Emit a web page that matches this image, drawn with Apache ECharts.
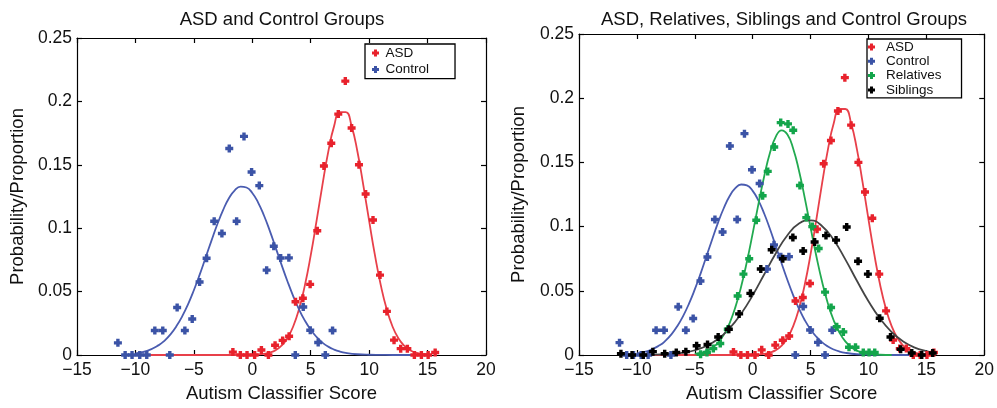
<!DOCTYPE html>
<html>
<head>
<meta charset="utf-8">
<script src="https://cdn.jsdelivr.net/npm/echarts@6/dist/echarts.min.js"></script>
<style>
html,body{margin:0;padding:0;background:#fff;}
#chart{width:997px;height:408px;}
</style>
</head>
<body>
<div id="chart"></div>
<script>
// ---- Data ----
const xTicks = [-15, -10, -5, 0, 5, 10, 15, 20];
const yTicks = [0, 0.05, 0.1, 0.15, 0.2, 0.25];

const controlX = [-11.5,-10.88,-10.29,-9.63,-9.03,-8.34,-7.66,-7.06,-6.43,-5.77,-5.14,-4.51,-3.91,-3.26,-2.6,-1.97,-1.34,-0.71,-0.06,0.6,1.23,1.84,2.43,3.13,3.68,4.36,4.96,5.64,6.25,6.87];
const controlY = [0.0096,0,0,0,0,0.0193,0.0193,0,0.0375,0.0193,0.0284,0.0576,0.0763,0.1055,0.0958,0.1628,0.1055,0.1724,0.1443,0.1336,0.0669,0.0858,0.0765,0.0766,0,0.0378,0.0195,0.0098,0,0.0193];

const asdX = [-1.66,-1.02,-0.45,0.2,0.78,1.38,1.95,2.6,3.15,3.7,4.33,4.95,5.56,6.13,6.76,7.36,7.96,8.5,9.13,9.7,10.33,10.93,11.52,12.13,12.7,13.27,13.87,14.47,15.05,15.65];
const asdY = [0.0023,0,0,0,0.004,0,0.0077,0.0115,0.0148,0.042,0.0448,0.0557,0.098,0.149,0.167,0.19,0.216,0.179,0.15,0.127,0.1065,0.063,0.0344,0.0117,0.005,0.005,0,0,0,0.002];

const relX = [-4.5,-3.95,-3.4,-2.8,-2.15,-1.3,-0.8,-0.3,0.31,0.86,1.3,1.86,2.42,3.05,3.5,4.08,4.63,5.15,5.7,6.25,6.77,7.26,7.83,8.32,8.88,9.55,10.05,10.54];
const relY = [0.0005,0.002,0.005,0.009,0.02,0.046,0.063,0.075,0.105,0.124,0.143,0.162,0.181,0.18,0.175,0.132,0.107,0.1,0.083,0.049,0.037,0.022,0.018,0.006,0.006,0.002,0.002,0.002];

const sibX = [-11.38,-10.42,-9.45,-8.62,-7.6,-6.6,-5.77,-4.84,-3.9,-2.98,-2.06,-1.17,-0.2,0.7,1.64,2.6,3.47,4.36,5.35,6.33,7.2,8.12,9.1,9.95,10.97,11.9,12.78,13.74,14.6,15.55];
const sibY = [0.001,0,0,0.0026,0.001,0.002,0.0026,0.0072,0.0082,0.014,0.02,0.032,0.048,0.067,0.082,0.075,0.0915,0.081,0.088,0.093,0.0895,0.0997,0.073,0.063,0.0286,0.014,0.0045,0.0015,0,0.0015];

// fitted curves
const controlFitX = [-10,-9,-8,-7.5,-7,-6.5,-6,-5.5,-5,-4.5,-4,-3.5,-3,-2.5,-2,-1.5,-1,-0.5,0,0.5,1,1.5,2,2.5,3,3.5,4,4.5,5,5.5,6,6.5,7,7.5,8,9,10,11,12,13,14,15];
const controlFitY = [0.0013,0.0033,0.0078,0.0114,0.0163,0.0226,0.0305,0.04,0.0511,0.0634,0.0767,0.09,0.1029,0.1143,0.1236,0.1299,0.1328,0.1321,0.1278,0.1202,0.11,0.0979,0.0847,0.0713,0.0584,0.0465,0.036,0.0271,0.0199,0.0142,0.0098,0.0066,0.0043,0.0027,0.0017,0.0006,0.0002,0.0001,0,0,0,0];

const asdFitX = [-10,-5,-2,-1,0,0.5,1,1.5,2,2.5,3,3.5,4,4.5,5,5.5,6,6.5,7,7.5,8,8.5,9,9.5,10,10.5,11,11.5,12,12.5,13,13.5,14,14.5,15];
const asdFitY = [0,0,0,0,0.0002,0.0004,0.0009,0.0019,0.0038,0.0073,0.0132,0.0225,0.0362,0.0549,0.0785,0.1057,0.134,0.1602,0.1805,0.1916,0.1916,0.1805,0.1603,0.134,0.1057,0.0785,0.0549,0.0362,0.0225,0.0132,0.0073,0.0038,0.0018,0.0009,0.0004];

const relFitX = [-5,-4.5,-4,-3.5,-3,-2.5,-2,-1.5,-1,-0.5,0,0.5,1,1.5,2,2.5,3,3.5,4,4.5,5,5.5,6,6.5,7,7.5,8,8.5,9,9.5,10,11,12];
const relFitY = [0.0008,0.0016,0.003,0.0055,0.0095,0.0157,0.0247,0.0371,0.0532,0.0727,0.0947,0.1177,0.1394,0.1577,0.1701,0.175,0.1717,0.1607,0.1435,0.1222,0.0992,0.0769,0.0568,0.04,0.0269,0.0173,0.0106,0.0062,0.0034,0.0018,0.0009,0.0002,0];

const sibFitX = [-11.5,-11,-10,-9,-8,-7,-6,-5,-4,-3,-2,-1,0,1,2,3,4,5,6,7,8,9,10,11,12,13,14,15,15.5];
const sibFitY = [0,0,0.0001,0.0001,0.0004,0.0008,0.0018,0.0037,0.007,0.0124,0.0207,0.0321,0.0465,0.0629,0.0793,0.0933,0.1024,0.1049,0.1003,0.0895,0.0745,0.0578,0.0419,0.0283,0.0179,0.0105,0.0058,0.003,0.0021];

const titles = ['ASD and Control Groups', 'ASD, Relatives, Siblings and Control Groups'];
const xName = 'Autism Classifier Score';
const yName = 'Probability/Proportion';

// ---- Styling ----
const FONT = 'Liberation Sans, Arial, Helvetica, sans-serif';
const C = {asd:'#e8222c', control:'#3b53a6', rel:'#13a54b', sib:'#000000'};
const L = {asd:'#e8404a', control:'#4a5cb0', rel:'#22aa50', sib:'#444444'};
const MARK = 'path://M2.3,0 L5.7,0 L5.7,2.3 L8,2.3 L8,5.7 L5.7,5.7 L5.7,8 L2.3,8 L2.3,5.7 L0,5.7 L0,2.3 L2.3,2.3 Z';

const zip = (xs, ys) => xs.map((x, i) => [x, ys[i]]);
const fmtX = v => (v < 0 ? '\u2212' + Math.abs(v) : String(v));

const grids = [
  {left: 77, top: 38, width: 409, height: 321},
  {left: 579, top: 34, width: 410, height: 326}
];

const xAxes = [], yAxes = [];
grids.forEach((g, gi) => {
  const base = {
    type: 'value', gridIndex: gi, min: xTicks[0], max: xTicks[xTicks.length-1], interval: 5,
    axisLine: {show: true, onZero: false, lineStyle: {color: '#000', width: 1.2}},
    axisTick: {show: true, inside: true, length: 5, lineStyle: {color: '#000', width: 1.2}},
    splitLine: {show: false}
  };
  xAxes.push(Object.assign({}, base, {
    position: 'bottom',
    axisLabel: {show: true, color: '#111', fontSize: 17.5, fontFamily: FONT, margin: 6, formatter: fmtX},
    name: xName, nameLocation: 'middle', nameGap: 29,
    nameTextStyle: {color: '#111', fontSize: 18.5, fontFamily: FONT}
  }));
  xAxes.push(Object.assign({}, base, {position: 'top', axisLabel: {show: false}}));
  const ybase = {
    type: 'value', gridIndex: gi, min: yTicks[0], max: yTicks[yTicks.length-1], interval: 0.05,
    axisLine: {show: true, onZero: false, lineStyle: {color: '#000', width: 1.2}},
    axisTick: {show: true, inside: true, length: 5, lineStyle: {color: '#000', width: 1.2}},
    splitLine: {show: false}
  };
  yAxes.push(Object.assign({}, ybase, {
    position: 'left',
    axisLabel: {show: true, color: '#111', fontSize: 17.5, fontFamily: FONT, margin: 5},
    name: yName, nameLocation: 'middle', nameGap: gi === 0 ? 50 : 51,
    nameTextStyle: {color: '#111', fontSize: 18.5, fontFamily: FONT}
  }));
  yAxes.push(Object.assign({}, ybase, {position: 'right', axisLabel: {show: false}}));
});

function lineSeries(name, xs, ys, color, gi) {
  return {
    name: name, type: 'line', xAxisIndex: gi*2, yAxisIndex: gi*2,
    data: zip(xs, ys), smooth: true, showSymbol: false,
    lineStyle: {color: color, width: 1.8}, itemStyle: {color: color}, z: 2, silent: true
  };
}
function scatterSeries(name, xs, ys, color, gi) {
  return {
    name: name, type: 'scatter', xAxisIndex: gi*2, yAxisIndex: gi*2,
    data: zip(xs, ys), symbol: MARK, symbolSize: 8,
    itemStyle: {color: color, opacity: 1}, z: 3, silent: true
  };
}

const series = [
  lineSeries('ASD fit', asdFitX, asdFitY, L.asd, 0),
  lineSeries('Control fit', controlFitX, controlFitY, L.control, 0),
  scatterSeries('ASD', asdX, asdY, C.asd, 0),
  scatterSeries('Control', controlX, controlY, C.control, 0),

  lineSeries('ASD fit', asdFitX, asdFitY, L.asd, 1),
  lineSeries('Control fit', controlFitX, controlFitY, L.control, 1),
  lineSeries('Relatives fit', relFitX, relFitY, L.rel, 1),
  lineSeries('Siblings fit', sibFitX, sibFitY, L.sib, 1),
  scatterSeries('ASD', asdX, asdY, C.asd, 1),
  scatterSeries('Control', controlX, controlY, C.control, 1),
  scatterSeries('Relatives', relX, relY, C.rel, 1),
  scatterSeries('Siblings', sibX, sibY, C.sib, 1)
];

const legendText = {color: '#111', fontSize: 13.5, fontFamily: FONT, lineHeight: 13};
const option = {
  animation: false,
  backgroundColor: '#fff',
  textStyle: {fontFamily: FONT},
  title: [
    {text: titles[0], left: 282, top: 10, textAlign: 'center', padding: 0,
     textStyle: {fontSize: 18.5, fontWeight: 'normal', color: '#111', fontFamily: FONT}},
    {text: titles[1], left: 784, top: 10, textAlign: 'center', padding: 0,
     textStyle: {fontSize: 18.5, fontWeight: 'normal', color: '#111', fontFamily: FONT}}
  ],
  legend: [
    {left: 365, top: 44, orient: 'vertical', selectedMode: false,
     padding: [2, 26, 2, 7], itemWidth: 10, itemHeight: 7, itemGap: 2.6,
     borderColor: '#000', borderWidth: 1.3, backgroundColor: '#fff', borderRadius: 0,
     textStyle: legendText,
     data: [{name: 'ASD', icon: MARK}, {name: 'Control', icon: MARK}]},
    {left: 867, top: 39, orient: 'vertical', selectedMode: false,
     padding: [1, 20, 1, 1], itemWidth: 19, itemHeight: 7, itemGap: 0.3,
     borderColor: '#000', borderWidth: 1.3, backgroundColor: '#fff', borderRadius: 0,
     textStyle: legendText,
     data: [{name: 'ASD', icon: MARK}, {name: 'Control', icon: MARK},
            {name: 'Relatives', icon: MARK}, {name: 'Siblings', icon: MARK}]}
  ],
  grid: grids,
  xAxis: xAxes,
  yAxis: yAxes,
  series: series
};

const chart = echarts.init(document.getElementById('chart'), null, {renderer: 'canvas'});
chart.setOption(option);
</script>
</body>
</html>
